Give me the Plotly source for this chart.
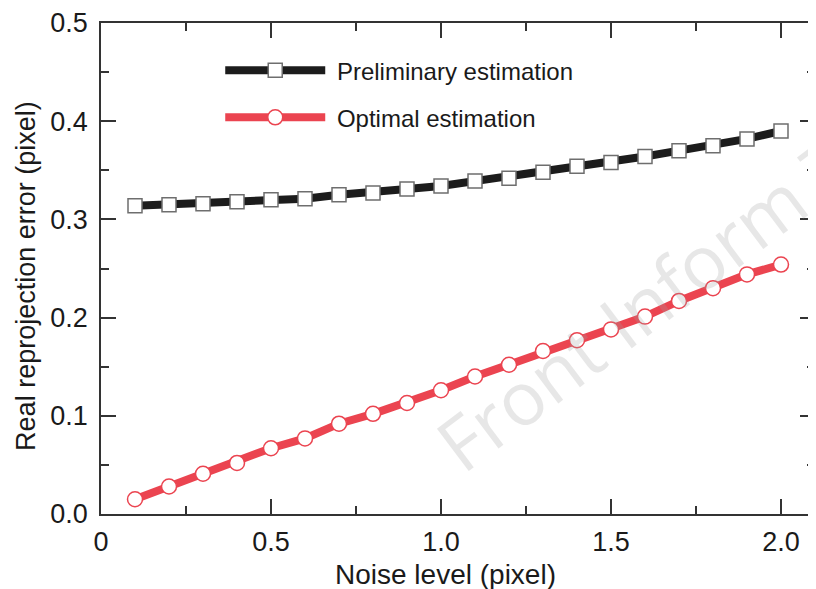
import plotly.graph_objects as go

noise = [0.1, 0.2, 0.3, 0.4, 0.5, 0.6, 0.7, 0.8, 0.9, 1.0,
         1.1, 1.2, 1.3, 1.4, 1.5, 1.6, 1.7, 1.8, 1.9, 2.0]
preliminary = [0.314, 0.315, 0.316, 0.318, 0.320, 0.321, 0.325, 0.327, 0.331, 0.334,
               0.339, 0.342, 0.348, 0.354, 0.358, 0.364, 0.370, 0.375, 0.382, 0.390]
optimal = [0.015, 0.028, 0.041, 0.052, 0.067, 0.077, 0.092, 0.102, 0.113, 0.126,
           0.140, 0.152, 0.166, 0.177, 0.188, 0.201, 0.217, 0.230, 0.244, 0.254]

x_ticks = [0, 0.5, 1.0, 1.5, 2.0]
x_tick_labels = ["0", "0.5", "1.0", "1.5", "2.0"]
y_ticks = [0.0, 0.1, 0.2, 0.3, 0.4, 0.5]
y_tick_labels = ["0.0", "0.1", "0.2", "0.3", "0.4", "0.5"]
x_title = "Noise level (pixel)"
y_title = "Real reprojection error (pixel)"

FONT = "Liberation Sans, Arial, sans-serif"
BLACK = "#1c1c1c"
RED = "#eb4450"
TXT = "#1a1a1a"

fig = go.Figure()
fig.add_trace(go.Scatter(
    x=noise, y=preliminary, mode="lines+markers", name="\u00a0Preliminary estimation",
    legendgroup="a",
    line=dict(color=BLACK, width=8),
    marker=dict(symbol="square", size=14, color="white", line=dict(color="#6e6e6e", width=1.5)),
))
fig.add_trace(go.Scatter(
    x=noise, y=optimal, mode="lines+markers", name="\u00a0Optimal estimation",
    legendgroup="b",
    line=dict(color=RED, width=8),
    marker=dict(symbol="circle", size=15, color="white", line=dict(color=RED, width=1.5)),
))

axis_common = dict(
    showline=True, linecolor="#333333", linewidth=1.5, mirror="allticks",
    ticks="inside", ticklen=15, tickwidth=1.5, tickcolor="#333333",
    showgrid=False, zeroline=False, automargin=False,
    tickfont=dict(family=FONT, size=27, color=TXT),
)
fig.update_xaxes(
    range=[0, 2.1], tickvals=x_ticks, ticktext=x_tick_labels,
    ticklabelstandoff=3,
    minor=dict(ticks="inside", ticklen=8, tickwidth=1.5, tickcolor="#333333", dtick=0.25, tick0=0),
    **axis_common,
)
fig.update_yaxes(
    range=[0, 0.5], tickvals=y_ticks, ticktext=y_tick_labels,
    ticklabelstandoff=6,
    minor=dict(ticks="inside", ticklen=8, tickwidth=1.5, tickcolor="#333333", dtick=0.05, tick0=0),
    **axis_common,
)

# axis titles
fig.add_annotation(
    text=x_title, xref="paper", yref="paper", x=0.482, y=-0.124,
    xanchor="center", yanchor="middle", showarrow=False,
    font=dict(family=FONT, size=28, color=TXT),
)
fig.add_annotation(
    text=y_title, xref="paper", yref="paper", x=-0.105, y=0.485,
    xanchor="center", yanchor="middle", textangle=-90, showarrow=False,
    font=dict(family=FONT, size=27, color=TXT),
)

# watermark
fig.add_annotation(
    text="Front Inform T", xref="paper", yref="paper", x=0.762, y=0.43,
    xanchor="center", yanchor="middle", textangle=-37, showarrow=False,
    font=dict(family="Open Sans, sans-serif", size=74, color="rgba(160,160,160,0.25)"),
)

fig.update_layout(
    width=816, height=589,
    margin=dict(l=93, r=9, t=15, b=83),
    paper_bgcolor="white", plot_bgcolor="white",
    showlegend=True,
    legend=dict(
        x=0.167, y=0.949, xanchor="left", yanchor="top",
        bgcolor="rgba(0,0,0,0)", itemwidth=100, tracegroupgap=13,
        traceorder="grouped",
        font=dict(family=FONT, size=24, color=TXT),
    ),
)

fig.write_html("out.html")
